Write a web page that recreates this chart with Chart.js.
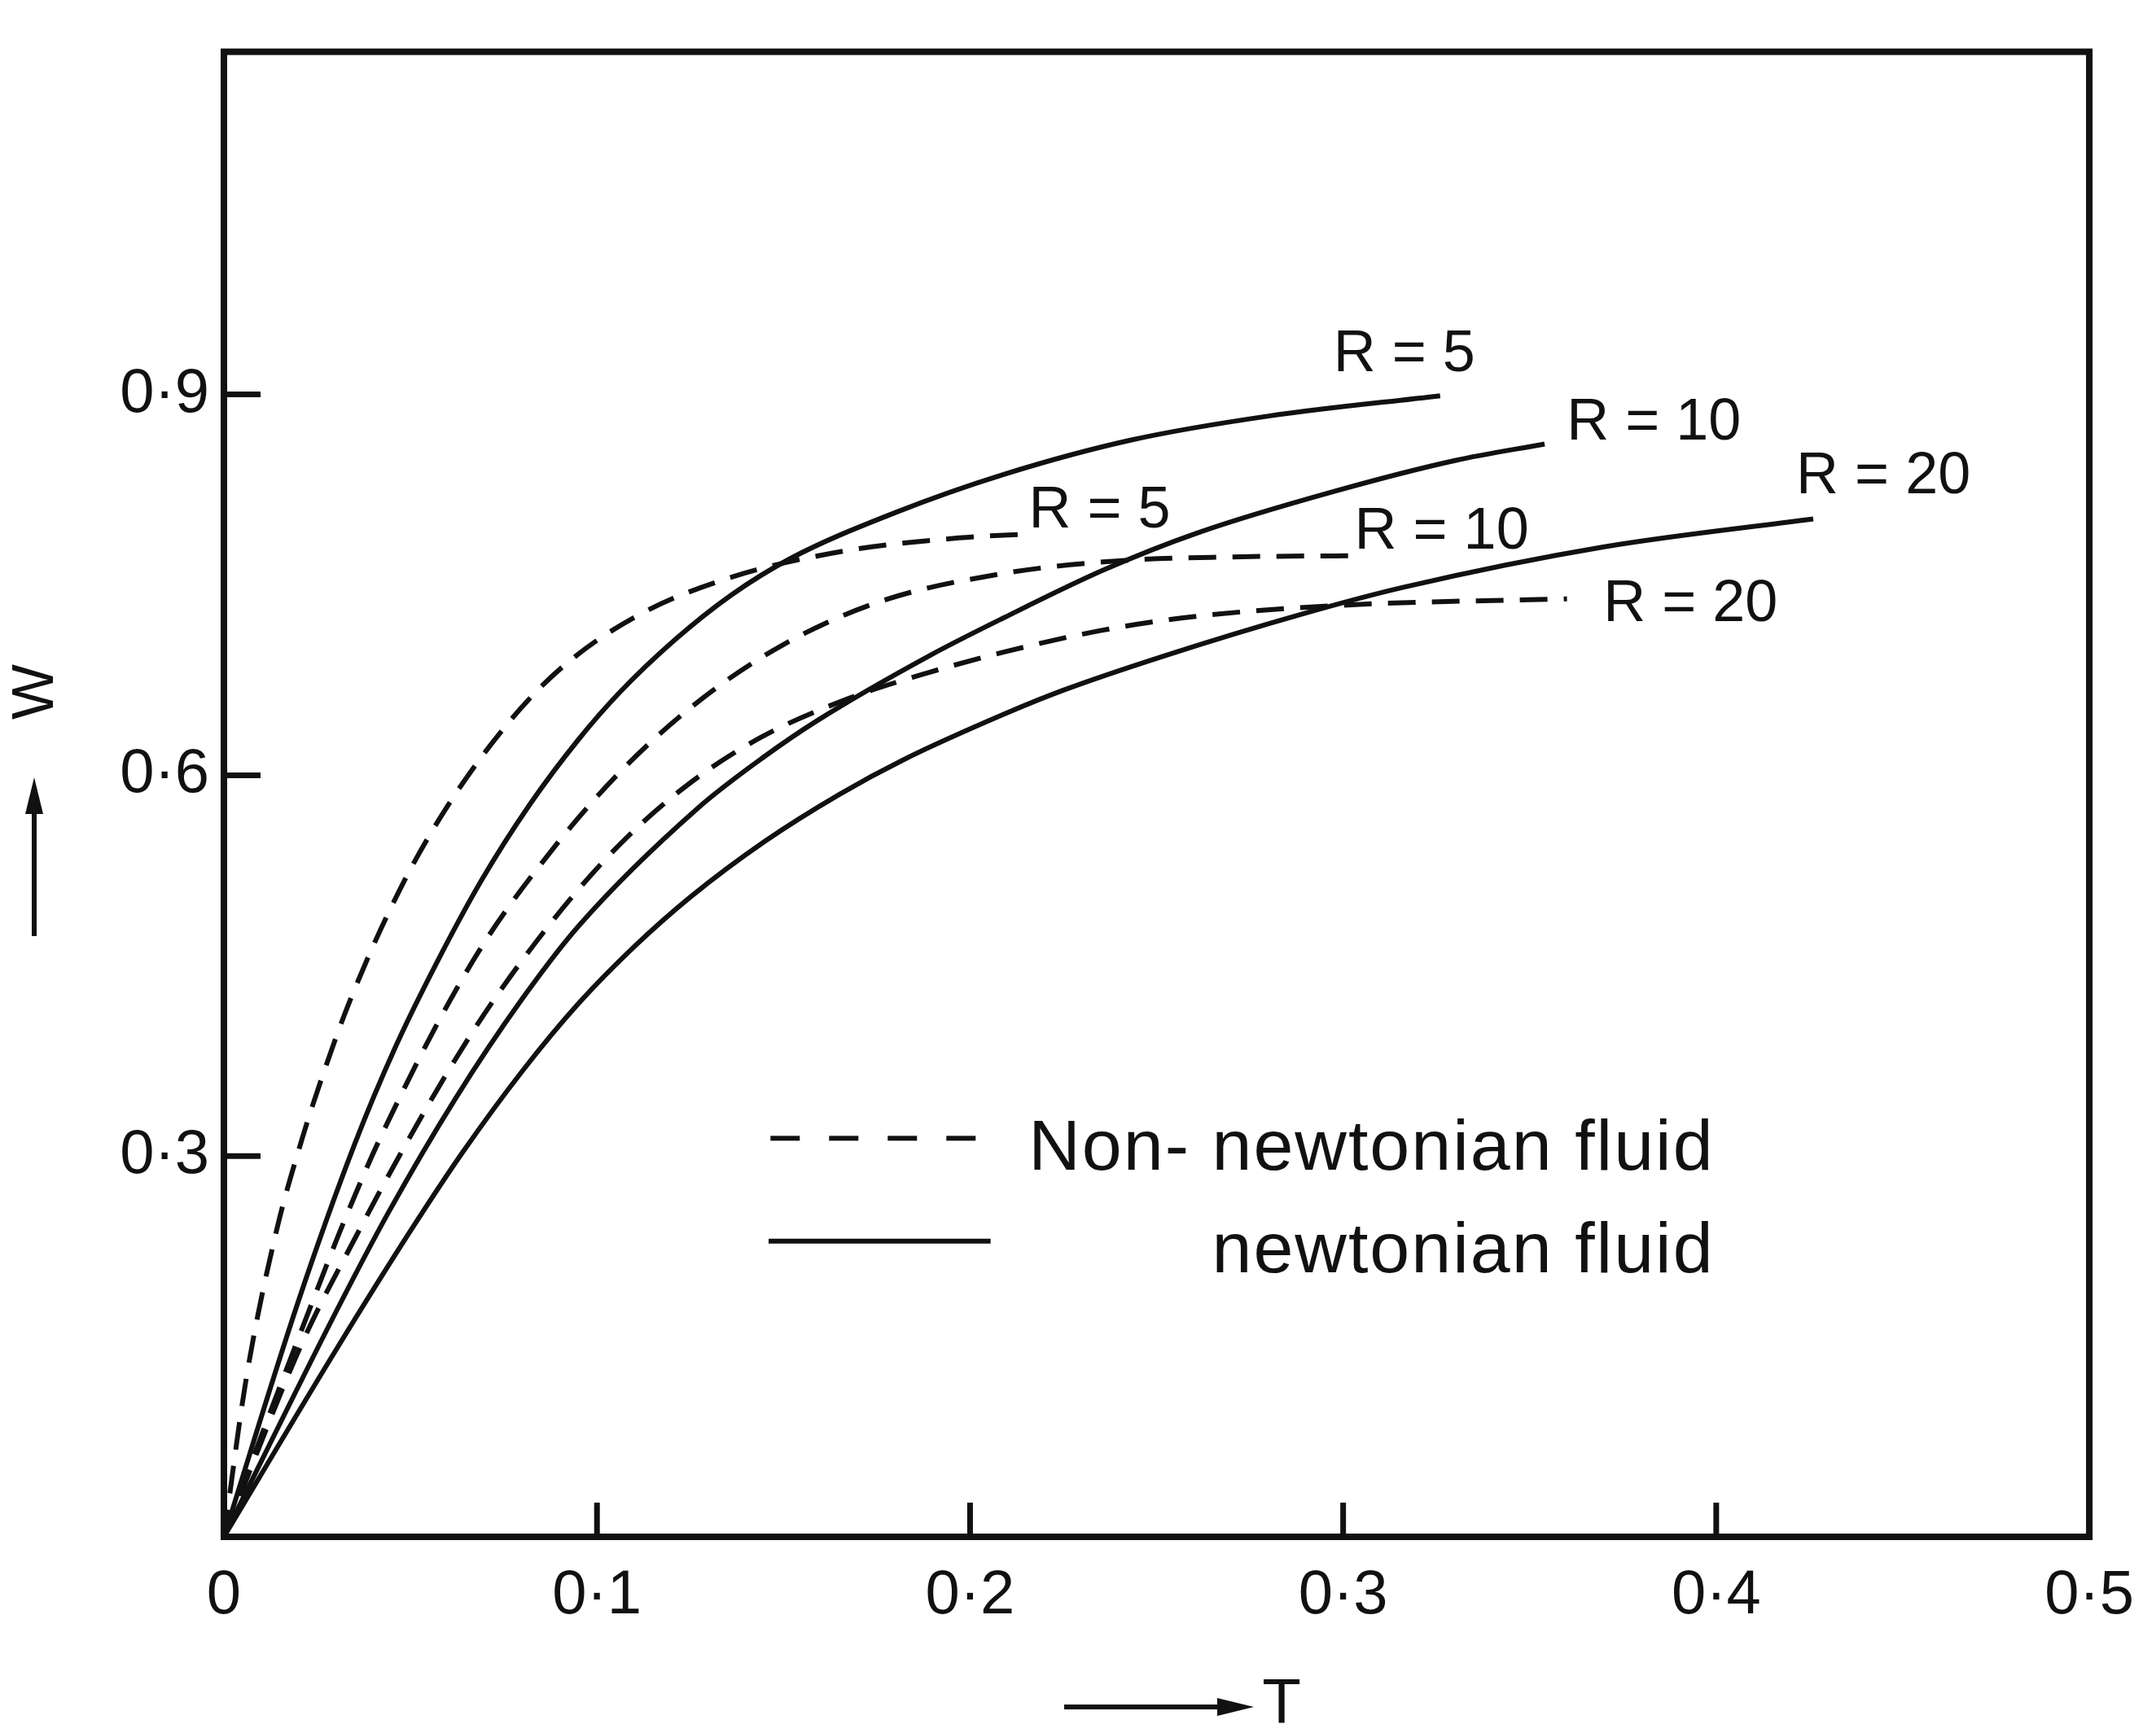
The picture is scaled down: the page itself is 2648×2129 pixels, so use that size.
<!DOCTYPE html>
<html lang="en">

<head>
  <meta charset="UTF-8">
  <title>W against T</title>
  <script src="https://cdn.jsdelivr.net/npm/chart.js@4.4.1/dist/chart.umd.min.js"></script>
  <style>
    body { margin: 0; background: #fff; }
    #graph1 { width: 2648px; height: 2129px; }
  </style>
</head>

<body>
  <div id="graph1"><canvas width="2648" height="2129"></canvas></div>

  <script>
    // newtonian fluid (solid)
    const n5T = [0, 0.02, 0.035, 0.046, 0.057, 0.069, 0.082, 0.095, 0.106, 0.121, 0.136, 0.152, 0.18, 0.209, 0.243, 0.28, 0.326];
    const n5W = [0, 0.186, 0.309, 0.386, 0.452, 0.517, 0.577, 0.628, 0.665, 0.707, 0.742, 0.771, 0.807, 0.837, 0.864, 0.883, 0.899];
    const n10T = [0, 0.03, 0.044, 0.062, 0.08, 0.095, 0.127, 0.145, 0.159, 0.189, 0.209, 0.236, 0.261, 0.298, 0.33, 0.354];
    const n10W = [0, 0.177, 0.255, 0.345, 0.424, 0.481, 0.574, 0.615, 0.643, 0.694, 0.724, 0.762, 0.791, 0.824, 0.848, 0.861];
    const n20T = [0, 0.03, 0.05, 0.064, 0.08, 0.095, 0.11, 0.125, 0.145, 0.165, 0.182, 0.209, 0.225, 0.252, 0.289, 0.316, 0.37, 0.426];
    const n20W = [0, 0.147, 0.241, 0.303, 0.367, 0.42, 0.465, 0.504, 0.548, 0.585, 0.612, 0.648, 0.667, 0.694, 0.727, 0.748, 0.78, 0.802];

    // non-newtonian fluid (dashed)
    const nn5T = [0, 0.006, 0.014, 0.021, 0.027, 0.034, 0.047, 0.06, 0.077, 0.091, 0.111, 0.136, 0.167, 0.197, 0.215];
    const nn5W = [0, 0.125, 0.24, 0.314, 0.368, 0.424, 0.509, 0.576, 0.644, 0.686, 0.726, 0.756, 0.777, 0.787, 0.79];
    const nn10T = [0, 0.012, 0.0245, 0.032, 0.0425, 0.067, 0.089, 0.108, 0.128, 0.15, 0.176, 0.209, 0.24, 0.27, 0.305];
    const nn10W = [0, 0.095, 0.191, 0.247, 0.318, 0.455, 0.545, 0.608, 0.66, 0.703, 0.737, 0.759, 0.769, 0.772, 0.773];
    const nn20T = [0, 0.021, 0.036, 0.047, 0.062, 0.074, 0.093, 0.108, 0.125, 0.144, 0.167, 0.189, 0.209, 0.235, 0.26, 0.3, 0.36];
    const nn20W = [0, 0.153, 0.24, 0.3, 0.376, 0.43, 0.503, 0.551, 0.594, 0.63, 0.66, 0.681, 0.697, 0.714, 0.725, 0.734, 0.739];

    const xTickValues = [0, 0.1, 0.2, 0.3, 0.4, 0.5];
    const yTickValues = [0.3, 0.6, 0.9];
    const xMarks = [0.1, 0.2, 0.3, 0.4];

    // curve labels and where they sit (in T, W)
    const curveLabels = ['R = 5', 'R = 5', 'R = 10', 'R = 10', 'R = 20', 'R = 20'];
    const labelT = [0.3164, 0.2347, 0.3833, 0.3264, 0.4448, 0.3931];
    const labelW = [0.931, 0.808, 0.877, 0.791, 0.835, 0.734];

    const legendNames = ['Non- newtonian fluid', 'newtonian fluid'];

    const ink = '#111';
    const fontFamily = '"Liberation Sans", Arial, sans-serif';
    Chart.defaults.font.family = fontFamily;
    Chart.defaults.color = ink;

    const fmt = v => v === 0 ? '0' : '0\u00b7' + Math.round(v * 10);

    const series = [
      { name: 'R = 5 newtonian', t: n5T, w: n5W, dashed: false },
      { name: 'R = 10 newtonian', t: n10T, w: n10W, dashed: false },
      { name: 'R = 20 newtonian', t: n20T, w: n20W, dashed: false },
      { name: 'R = 5 non-newtonian', t: nn5T, w: nn5W, dashed: true },
      { name: 'R = 10 non-newtonian', t: nn10T, w: nn10W, dashed: true },
      { name: 'R = 20 non-newtonian', t: nn20T, w: nn20W, dashed: true }
    ];

    function line(ctx, x1, y1, x2, y2) {
      ctx.beginPath();
      ctx.moveTo(x1, y1);
      ctx.lineTo(x2, y2);
      ctx.stroke();
    }

    const notes = {
      id: 'notes',
      afterDatasetsDraw(chart) {
        const { ctx, chartArea: a, scales: { x, y } } = chart;
        ctx.save();
        ctx.strokeStyle = ink;
        ctx.fillStyle = ink;

        // frame
        ctx.lineWidth = 8;
        ctx.strokeRect(a.left, a.top, a.right - a.left, a.bottom - a.top);

        // tick marks pointing inward
        ctx.lineWidth = 7;
        xMarks.forEach(v => {
          const px = x.getPixelForValue(v);
          line(ctx, px, a.bottom, px, a.bottom - 42);
        });
        yTickValues.forEach(v => {
          const py = y.getPixelForValue(v);
          line(ctx, a.left, py, a.left + 45, py);
        });

        // R = labels
        ctx.font = '72px ' + fontFamily;
        ctx.textAlign = 'center';
        ctx.textBaseline = 'middle';
        curveLabels.forEach((t, i) => {
          ctx.fillText(t, x.getPixelForValue(labelT[i]), y.getPixelForValue(labelW[i]));
        });

        // legend
        ctx.lineWidth = 6;
        ctx.setLineDash([36, 36]);
        line(ctx, x.getPixelForValue(0.1465), y.getPixelForValue(0.314), x.getPixelForValue(0.2015), y.getPixelForValue(0.314));
        ctx.setLineDash([]);
        line(ctx, x.getPixelForValue(0.146), y.getPixelForValue(0.233), x.getPixelForValue(0.2055), y.getPixelForValue(0.233));
        ctx.font = '88px ' + fontFamily;
        ctx.letterSpacing = '2px';
        ctx.textAlign = 'right';
        ctx.fillText(legendNames[0], x.getPixelForValue(0.3995), y.getPixelForValue(0.305));
        ctx.fillText(legendNames[1], x.getPixelForValue(0.3995), y.getPixelForValue(0.224));
        ctx.letterSpacing = '0px';

        // axis names with arrows
        ctx.save();
        ctx.translate(45, 850);
        ctx.rotate(-Math.PI / 2);
        ctx.font = '72px ' + fontFamily;
        ctx.textAlign = 'center';
        ctx.fillText('W', 0, 0);
        ctx.restore();
        ctx.lineWidth = 6;
        line(ctx, 42, 1150, 42, 990);
        ctx.beginPath();
        ctx.moveTo(42, 955);
        ctx.lineTo(31, 1000);
        ctx.lineTo(53, 1000);
        ctx.closePath();
        ctx.fill();

        line(ctx, 1307, 2097, 1505, 2097);
        ctx.beginPath();
        ctx.moveTo(1540, 2097);
        ctx.lineTo(1495, 2086);
        ctx.lineTo(1495, 2108);
        ctx.closePath();
        ctx.fill();
        ctx.font = '78px ' + fontFamily;
        ctx.textAlign = 'center';
        ctx.fillText('T', 1574, 2095);

        ctx.restore();
      }
    };

    const chartCtx = document.getElementById('graph1').querySelector('canvas').getContext('2d');
    const chart = new Chart(chartCtx, {
      type: 'line',
      data: {
        datasets: series.map(s => ({
          label: s.name,
          data: s.t.map((t, i) => ({ x: t, y: s.w[i] })),
          borderColor: ink,
          borderWidth: 6,
          borderDash: s.dashed ? [34, 20] : [],
          pointRadius: 0,
          cubicInterpolationMode: 'monotone',
          fill: false
        }))
      },
      options: {
        responsive: false,
        animation: false,
        layout: { padding: { left: 0, right: 72, top: 52, bottom: 0 } },
        plugins: {
          legend: { display: false },
          tooltip: { enabled: false }
        },
        scales: {
          x: {
            type: 'linear',
            min: 0,
            max: 0.5,
            grid: { display: false, drawTicks: false },
            border: { display: false },
            afterBuildTicks: s => { s.ticks = xTickValues.map(v => ({ value: v })); },
            afterFit: s => { s.height = 241; },
            ticks: { callback: v => fmt(v), padding: 27, font: { size: 76 }, color: ink, maxRotation: 0, autoSkip: false }
          },
          y: {
            type: 'linear',
            min: 0,
            max: 1.17,
            grid: { display: false, drawTicks: false },
            border: { display: false },
            afterBuildTicks: s => { s.ticks = yTickValues.map(v => ({ value: v })); },
            afterFit: s => { s.width = 275; },
            ticks: { callback: v => fmt(v), padding: 18, font: { size: 76 }, color: ink }
          }
        }
      },
      plugins: [notes]
    });
  </script>
</body>

</html>
